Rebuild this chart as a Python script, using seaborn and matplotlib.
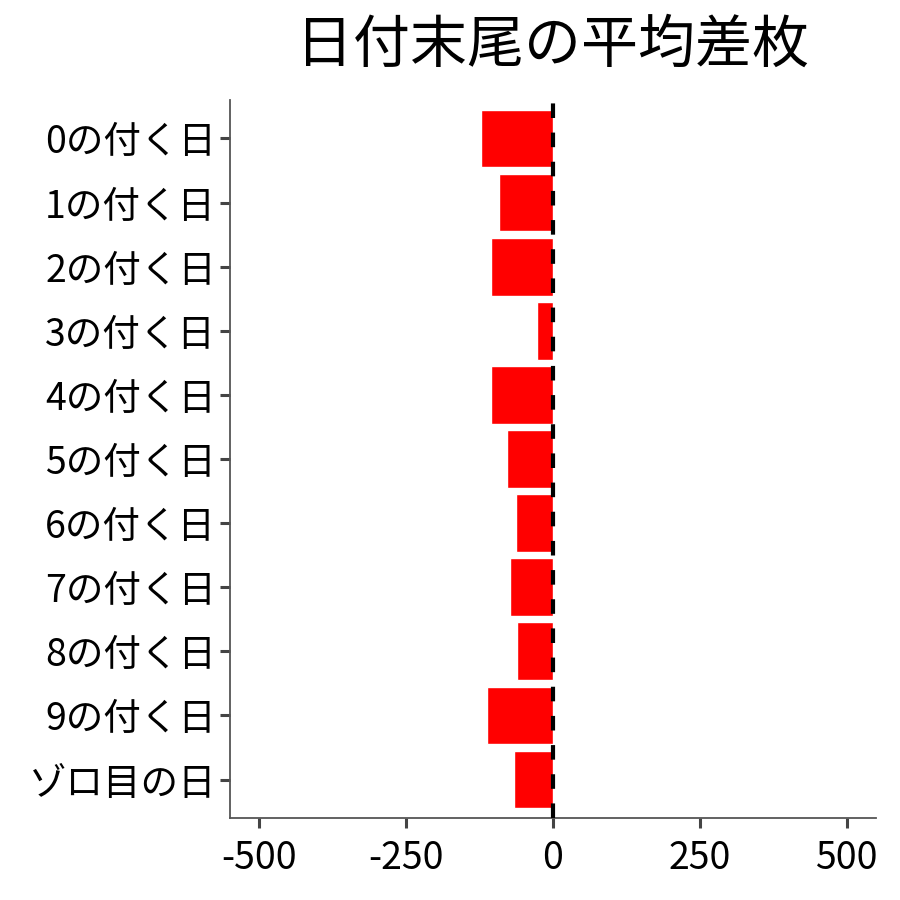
import matplotlib
matplotlib.use("Agg")
import matplotlib.pyplot as plt
import seaborn as sns
import pandas as pd

categories = ["0の付く日", "1の付く日", "2の付く日", "3の付く日", "4の付く日",
              "5の付く日", "6の付く日", "7の付く日", "8の付く日", "9の付く日", "ゾロ目の日"]
values = [-122, -92, -105, -27, -105, -78, -63, -73, -61, -112, -66]
x_ticks = [-500, -250, 0, 250, 500]
title = "日付末尾の平均差枚"

sns.set_theme(style="white")
plt.rcParams['font.family'] = ['Noto Sans CJK JP', 'DejaVu Sans']

df = pd.DataFrame({"label": categories, "value": values})

fig = plt.figure(figsize=(9, 9), dpi=100)
ax = fig.add_axes([230/900, 1-818/900, (876-230)/900, (818-100)/900])
sns.barplot(data=df, x="value", y="label", order=categories, color="#ff0000",
            saturation=1, width=0.9, ax=ax, orient="h")
ax.axvline(0, color="black", linestyle=(0, (3.5, 3.5)), linewidth=3, zorder=5)
ax.set_xlim(-550, 550)
ax.set_ylim(len(categories) - 0.4, -0.6)
ax.set_xticks(x_ticks)
ax.set_xticklabels([str(t) for t in x_ticks])
ax.set_xlabel("")
ax.set_ylabel("")
for s in ["top", "right"]:
    ax.spines[s].set_visible(False)
for s in ["left", "bottom"]:
    ax.spines[s].set_color("#555555")
    ax.spines[s].set_linewidth(1.3)
ax.tick_params(axis="both", which="major", length=7, width=2.2, color="#444444",
               labelsize=27, labelcolor="black", direction="out")
ax.tick_params(axis="x", pad=8)
ax.tick_params(axis="y", pad=3)
ax.tick_params(axis="both", bottom=True, left=True)
fig.text((230 + 876) / 2 / 900, 1 - 45/900, title, ha="center", va="center",
         fontsize=41, color="black")
fig.savefig("out.png", dpi=100, facecolor="white")
